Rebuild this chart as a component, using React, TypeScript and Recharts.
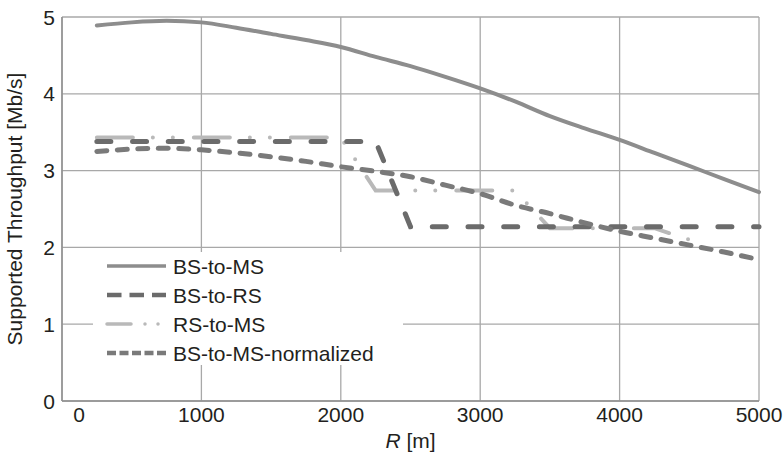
import { LineChart, Line, XAxis, YAxis, CartesianGrid, Legend } from "recharts";

// Cell radius in metres
const R_M = [
  250, 500, 750, 1000, 1250, 1500, 1750, 2000, 2250, 2500,
  2750, 3000, 3250, 3500, 3750, 4000, 4250, 4500, 4750, 5000,
];

// Supported throughput [Mb/s]
const BS_TO_MS = [
  4.89, 4.93, 4.95, 4.93, 4.86, 4.78, 4.7, 4.61, 4.48, 4.36,
  4.22, 4.07, 3.9, 3.71, 3.55, 3.4, 3.23, 3.06, 2.89, 2.72,
];
const BS_TO_RS = [
  3.38, 3.38, 3.38, 3.38, 3.38, 3.38, 3.38, 3.38, 3.38, 2.27,
  2.27, 2.27, 2.27, 2.27, 2.27, 2.27, 2.27, 2.27, 2.27, 2.27,
];
const RS_TO_MS = [
  3.43, 3.43, 3.43, 3.43, 3.43, 3.43, 3.43, 3.43, 2.74, 2.74,
  2.74, 2.74, 2.74, 2.25, 2.25, 2.25, 2.25, 2.1, null, null,
];
const BS_TO_MS_NORM = [
  3.25, 3.28, 3.29, 3.27, 3.23, 3.18, 3.12, 3.05, 2.99, 2.92,
  2.81, 2.7, 2.55, 2.44, 2.32, 2.21, 2.12, 2.03, 1.94, 1.84,
];

const X_TICKS = [0, 1000, 2000, 3000, 4000, 5000];
const Y_TICKS = [0, 1, 2, 3, 4, 5];

const data = R_M.map((r, i) => ({
  r,
  bsMs: BS_TO_MS[i],
  bsRs: BS_TO_RS[i],
  rsMs: RS_TO_MS[i],
  bsMsNorm: BS_TO_MS_NORM[i],
}));

const FONT = '"Liberation Sans", Arial, Helvetica, sans-serif';
const TEXT = "#231f20";

const SERIES = [
  { key: "bsMs", name: "BS-to-MS", color: "#8d8d8d", width: 4, dash: undefined, legendDash: undefined, legendCap: "butt", type: "monotone" },
  { key: "bsRs", name: "BS-to-RS", color: "#6b6b6b", width: 5, dash: "14 21.7", legendDash: "14.5 8", legendCap: "butt", type: "linear" },
  { key: "rsMs", name: "RS-to-MS", color: "#b9b9b9", width: 4, dash: "36 20 0 20 0 21", legendDash: "24 14 0 13 0 20", legendCap: "round", type: "linear" },
  { key: "bsMsNorm", name: "BS-to-MS-normalized", color: "#7a7a7a", width: 5, dash: "10 10.5", legendDash: "9 3.5", legendCap: "butt", type: "monotone" },
];

// draw order: light series underneath, normalized on top
const DRAW_ORDER = ["bsMs", "rsMs", "bsRs", "bsMsNorm"];

const XTick = ({ x, y, payload }: any) => (
  <text
    x={x + (payload.value === 0 ? 17 : 0)}
    y={y}
    dy={21}
    textAnchor="middle"
    fill={TEXT}
    fontSize={21}
    fontFamily={FONT}
  >
    {payload.value}
  </text>
);

const YTick = ({ x, y, payload }: any) => (
  <text x={x - 7} y={y} dy={7.5} textAnchor="end" fill={TEXT} fontSize={21} fontFamily={FONT}>
    {payload.value}
  </text>
);

const YLabel = ({ viewBox }: any) => {
  const cy = viewBox.y + viewBox.height / 2;
  return (
    <text
      x={21.5}
      y={cy}
      transform={`rotate(-90 21.5 ${cy})`}
      textAnchor="middle"
      fill={TEXT}
      fontSize={21}
      fontFamily={FONT}
    >
      Supported Throughput [Mb/s]
    </text>
  );
};

const XLabel = ({ viewBox }: any) => (
  <text
    x={viewBox.x + viewBox.width / 2}
    y={viewBox.y + 47}
    textAnchor="middle"
    fill={TEXT}
    fontSize={21}
    fontFamily={FONT}
  >
    <tspan fontStyle="italic">R</tspan> [m]
  </text>
);

function LegendBox() {
  return (
    <svg width={310} height={113} style={{ display: "block", background: "#fff" }}>
      {SERIES.map((s, i) => {
        const y = 14 + i * 29;
        return (
          <g key={s.key}>
            <line
              x1={14}
              x2={73}
              y1={y}
              y2={y}
              stroke={s.color}
              strokeWidth={s.width - 0.5}
              strokeDasharray={s.legendDash}
              strokeLinecap={s.legendCap as any}
            />
            <text x={80} y={y + 7.5} fill={TEXT} fontSize={21} fontFamily={FONT}>
              {s.name}
            </text>
          </g>
        );
      })}
    </svg>
  );
}

export default function App() {
  return (
    <div style={{ position: "absolute", left: 0, top: 0, width: 783, height: 453, background: "#fff" }}>
      <LineChart
        width={783}
        height={453}
        data={data}
        margin={{ top: 17, right: 24, bottom: 0, left: 0 }}
        style={{ fontFamily: FONT }}
      >
        <CartesianGrid stroke="#a8a8a8" strokeWidth={1.3} verticalValues={X_TICKS} horizontalValues={Y_TICKS} />
        <XAxis
          type="number"
          dataKey="r"
          domain={[0, 5000]}
          ticks={X_TICKS}
          height={52}
          tickLine={false}
          tickSize={0}
          tickMargin={0}
          axisLine={{ stroke: "#8f8f8f", strokeWidth: 1.5 }}
          tick={<XTick />}
          label={XLabel}
        />
        <YAxis
          type="number"
          domain={[0, 5]}
          ticks={Y_TICKS}
          width={62}
          tickLine={false}
          tickSize={0}
          tickMargin={0}
          axisLine={{ stroke: "#8f8f8f", strokeWidth: 1.5 }}
          tick={<YTick />}
          label={YLabel}
        />
        <Legend
          layout="vertical"
          align="center"
          verticalAlign="middle"
          wrapperStyle={{ left: 93, top: 252, width: 310, height: 113 }}
          content={() => <LegendBox />}
        />
        {DRAW_ORDER.map((k) => {
          const s = SERIES.find((d) => d.key === k)!;
          return (
            <Line
              key={s.key}
              type={s.type as any}
              dataKey={s.key}
              name={s.name}
              stroke={s.color}
              strokeWidth={s.width}
              strokeDasharray={s.dash}
              strokeLinecap="round"
              dot={false}
              activeDot={false}
              isAnimationActive={false}
            />
          );
        })}
      </LineChart>
    </div>
  );
}
